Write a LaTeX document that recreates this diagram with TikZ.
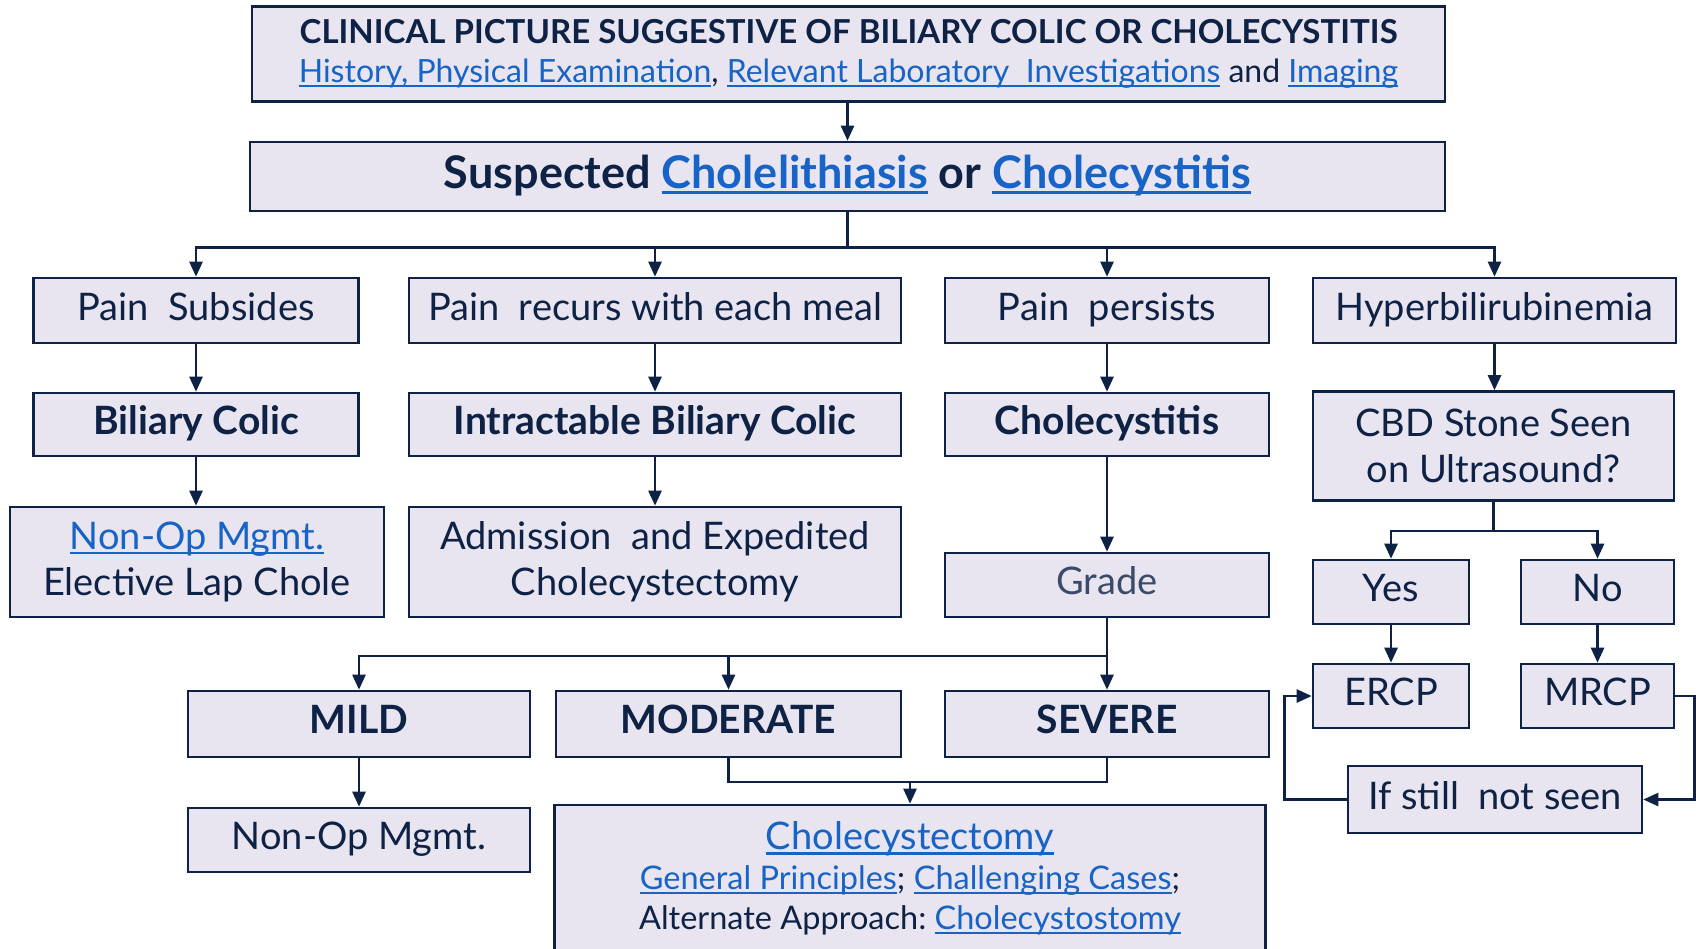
\documentclass[tikz,border=0pt]{standalone}
\usepackage{fontspec}
\setmainfont{Lato}
\usetikzlibrary{arrows.meta}
\definecolor{navy}{HTML}{0E2245}
\definecolor{boxfill}{HTML}{E8E5F0}
\definecolor{linkblue}{HTML}{1763C6}
\definecolor{gradegray}{HTML}{3B4A66}
\newcommand\lnk[1]{{\color{linkblue}\setbox0\hbox{#1}\rlap{\rule[-0.13em]{\wd0}{0.07em}}\box0}}
\begin{document}
\begin{tikzpicture}[x=1pt,y=-1pt,
  box/.style={draw=navy, fill=boxfill, line width=2.6pt, inner sep=2pt, align=center, text=navy},
  wh/.style 2 args={minimum width=#1pt, minimum height=#2pt},
  line/.style={draw=navy, line width=2.5pt},
  arr/.style={line, -{Triangle[length=15pt,width=13pt]}},
  one/.style={text height=28pt, text depth=9pt},
  rt/.style={font=\fontsize{38}{46}\selectfont},
  bt/.style={font=\fontsize{39}{46}\selectfont\bfseries}]
\fill[white] (0,0) rectangle (1696,948);
\useasboundingbox (0,0) rectangle (1696,948);
\clip (0,0) rectangle (1696,948);

% nodes
\node[box, wh={1193}{95.5}, font=\fontsize{32}{39}\selectfont] (top) at (848.5,54)
  {{\fontsize{33}{39}\selectfont\bfseries CLINICAL PICTURE SUGGESTIVE OF BILIARY COLIC OR CHOLECYSTITIS}\\
   \lnk{History, Physical Examination}, \lnk{Relevant Laboratory\ \ Investigations} and \lnk{Imaging}};
\node[box, one, wh={1195}{69}, font=\fontsize{45}{50}\selectfont\bfseries, text height=33pt, text depth=10pt] (susp) at (847.5,176.5)
  {Suspected \lnk{Cholelithiasis} or \lnk{Cholecystitis}};

\node[box, rt, one, wh={325.5}{65}] (ps) at (196,310.5) {Pain\ \ Subsides};
\node[box, rt, one, wh={492}{65}] (pr) at (655,310.5) {Pain\ \ recurs with each meal};
\node[box, rt, one, wh={324}{65}] (pp) at (1107,310.5) {Pain\ \ persists};
\node[box, rt, one, wh={363}{65}] (hb) at (1494.5,310.5) {Hyperbilirubinemia};

\node[box, bt, one, wh={325.5}{63}] (bc) at (196,424.5) {Biliary Colic};
\node[box, bt, one, wh={492}{63}] (ib) at (655,424.5) {Intractable Biliary Colic};
\node[box, bt, one, wh={324}{63}] (cy) at (1107,424.5) {Cholecystitis};
\node[box, rt, wh={361}{109}] (cbd) at (1493.5,446) {CBD Stone Seen\\on Ultrasound?};

\node[box, rt, wh={374}{110}] (nop1) at (197,562) {\lnk{Non-Op Mgmt.}\\Elective Lap Chole};
\node[box, rt, wh={492}{110}] (adm) at (655,562) {Admission\ \ and Expedited\\Cholecystectomy};
\node[box, rt, one, wh={324}{64}, text=gradegray] (grade) at (1107,585) {Grade};
\node[box, rt, one, wh={156}{64}] (yes) at (1391,592) {Yes};
\node[box, rt, one, wh={153}{64}] (no) at (1597.5,592) {No};
\node[box, rt, one, wh={156}{64}] (ercp) at (1391,696) {ERCP};
\node[box, rt, one, wh={153}{64}] (mrcp) at (1597.5,696) {MRCP};
\node[box, rt, one, wh={294}{67}] (ifs) at (1495,799.5) {If still\ \ not seen};

\node[box, bt, one, wh={342}{66}] (mild) at (359,724) {MILD};
\node[box, bt, one, wh={345}{66}] (mod) at (728.5,724) {MODERATE};
\node[box, bt, one, wh={324}{66}] (sev) at (1107,724) {SEVERE};
\node[box, rt, one, wh={342}{64}] (nop2) at (359,840) {Non-Op Mgmt.};
\node[box, wh={711.5}{147}, font=\fontsize{32.5}{40}\selectfont] (chole) at (910,878.5)
  {{\fontsize{38}{40}\selectfont\lnk{Cholecystectomy}}\\
   \lnk{General Principles}; \lnk{Challenging Cases};\\
   Alternate Approach:\ \lnk{Cholecystostomy}};

% connectors
\draw[arr] (top.south -| susp.north) -- (susp.north);
\foreach \t in {ps,pr,pp,hb} \draw[arr] (susp.south) -- ++(0,35) -| (\t.north);
\draw[arr] (ps) -- (bc);
\draw[arr] (bc.south) -- (bc.south |- nop1.north);
\draw[arr] (pr) -- (ib);
\draw[arr] (ib) -- (adm);
\draw[arr] (pp) -- (cy);
\draw[arr] (cy) -- (grade);
\draw[arr] (hb.south) -- (hb.south |- cbd.north);
\foreach \t in {yes,no} \draw[arr] (cbd.south) -- ++(0,29) -| (\t.north);
\draw[arr] (yes) -- (ercp);
\draw[arr] (no) -- (mrcp);
\draw[arr] (ifs.west) -- ++(-62,0) |- (ercp.west);
\draw[arr] (mrcp.east) -- ++(19,0) |- (ifs.east);
\foreach \t in {mild,mod,sev} \draw[arr] (grade.south) -- ++(0,37.5) -| (\t.north);
\draw[arr] (mild) -- (nop2);
\coordinate (m) at (910,782);
\draw[line] (mod.south) |- (m) -| (sev.south);
\draw[arr] (m) -- (chole.north);
\end{tikzpicture}
\end{document}
